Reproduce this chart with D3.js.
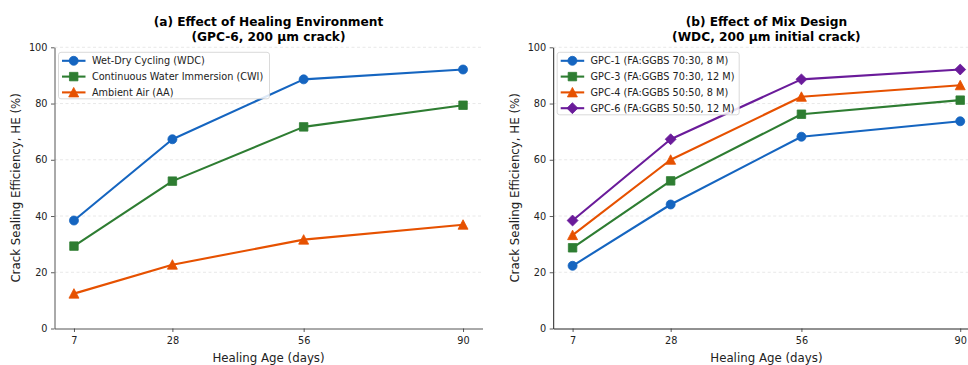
<!DOCTYPE html>
<html>
<head>
<meta charset="utf-8">
<script src="https://cdn.jsdelivr.net/npm/d3@7/dist/d3.min.js"></script>
<style>
  html, body { margin: 0; padding: 0; background: #fff; }
  svg { display: block; font-family: "DejaVu Sans", sans-serif; }
</style>
</head>
<body>
<svg id="chart" width="968" height="365"></svg>
<script>
// ---------- data ----------
const days = [7, 28, 56, 90];
const xTicks = [7, 28, 56, 90];
const yTicks = [0, 20, 40, 60, 80, 100];

const envNames = ["Wet-Dry Cycling (WDC)", "Continuous Water Immersion (CWI)", "Ambient Air (AA)"];
const wdc = [38.4, 67.3, 88.6, 92.1];
const cwi = [29.3, 52.4, 71.7, 79.4];
const aa  = [12.4, 22.7, 31.6, 36.9];

const mixNames = ["GPC-1 (FA:GGBS 70:30, 8 M)", "GPC-3 (FA:GGBS 70:30, 12 M)", "GPC-4 (FA:GGBS 50:50, 8 M)", "GPC-6 (FA:GGBS 50:50, 12 M)"];
const gpc1 = [22.3, 44.1, 68.2, 73.7];
const gpc3 = [28.7, 52.5, 76.2, 81.2];
const gpc4 = [33.2, 60.0, 82.4, 86.5];
const gpc6 = [38.4, 67.3, 88.6, 92.1];

const titlesA = ["(a)  Effect of Healing Environment", "(GPC-6, 200 μm crack)"];
const titlesB = ["(b)  Effect of Mix Design", "(WDC, 200 μm initial crack)"];
const xLabel = "Healing Age (days)";
const yLabel = "Crack Sealing Efficiency, HE (%)";

// ---------- styles ----------
const BLUE = "#1565C0", GREEN = "#2E7D32", ORANGE = "#E65100", PURPLE = "#6A1B9A";

function markerPath(type, s) {
  const h = s / 2;
  if (type === "circle") return d3.symbol(d3.symbolCircle, Math.PI * h * h)();
  if (type === "square") return `M${-h},${-h}H${h}V${h}H${-h}Z`;
  if (type === "triangle") return `M0,${-h * 1.05}L${h * 1.05},${h * 0.95}L${-h * 1.05},${h * 0.95}Z`;
  if (type === "diamond") { const d = h * 1.15; return `M0,${-d}L${d},0L0,${d}L${-d},0Z`; }
}
const mSize = { circle: 9, square: 8.5, triangle: 9.5, diamond: 9.5 };

const svg = d3.select("#chart");

// font size that makes `str` about `target` px wide
function fitSize(str, target, bold) {
  const t = svg.append("text").attr("font-size", 10)
    .attr("font-weight", bold ? "bold" : "normal").text(str);
  const w = t.node().getComputedTextLength();
  t.remove();
  return w > 0 ? 10 * target / w : 10;
}
const legFs = 9.72;
const tickFs = 9.72;
const titleFs = Math.min(13, Math.max(11, fitSize(titlesA[0], 230, true)));
const xLabFs = 11.8;
const yLabFs = 11.8;

function panel(cfg) {
  const x = d3.scaleLinear().domain([7 - 0.05 * 83, 90 + 0.05 * 83]).range(cfg.xr);
  const y = d3.scaleLinear().domain([0, 100]).range([328.5, 47.3]);
  const g = svg.append("g");

  // grid
  g.append("g").selectAll("line").data(yTicks.slice(1)).join("line")
    .attr("x1", cfg.xr[0]).attr("x2", cfg.xr[1])
    .attr("y1", d => y(d)).attr("y2", d => y(d))
    .attr("stroke", "#e2e2e2").attr("stroke-width", 0.8).attr("stroke-dasharray", "3,2.5");

  // axes
  const xa = g.append("g").attr("transform", `translate(0,${y(0)})`)
    .call(d3.axisBottom(x).tickValues(xTicks).tickSize(3.5).tickPadding(5).tickSizeOuter(0));
  const ya = g.append("g").attr("transform", `translate(${cfg.xr[0]},0)`)
    .call(d3.axisLeft(y).tickValues(yTicks).tickSize(3.5).tickPadding(3.5).tickSizeOuter(0));
  [xa, ya].forEach(a => {
    a.select(".domain").attr("stroke", cfg.spine).attr("stroke-width", 1);
    a.selectAll(".tick line").attr("stroke", "#333").attr("stroke-width", 0.8);
    a.selectAll(".tick text").attr("font-size", tickFs).attr("fill", "#222")
      .attr("font-family", "DejaVu Sans");
  });

  // lines + markers
  cfg.series.forEach(s => {
    const pts = days.map((d, i) => [x(d), y(s.values[i])]);
    g.append("path").attr("d", d3.line()(pts)).attr("fill", "none")
      .attr("stroke", s.color).attr("stroke-width", 2.1).attr("stroke-linejoin", "round");
    g.append("g").selectAll("path").data(pts).join("path")
      .attr("transform", p => `translate(${p[0]},${p[1]})`)
      .attr("d", markerPath(s.marker, mSize[s.marker]))
      .attr("fill", s.color).attr("stroke", s.color).attr("stroke-width", 0.8);
  });

  // titles
  const cx = (cfg.xr[0] + cfg.xr[1]) / 2;
  g.append("text").attr("x", cx).attr("y", 26).attr("text-anchor", "middle")
    .attr("font-size", titleFs).attr("font-weight", "bold").text(cfg.titles[0]);
  g.append("text").attr("x", cx).attr("y", 41).attr("text-anchor", "middle")
    .attr("font-size", titleFs).attr("font-weight", "bold").text(cfg.titles[1]);

  // axis labels
  g.append("text").attr("x", cx).attr("y", 362).attr("text-anchor", "middle")
    .attr("font-size", xLabFs).attr("fill", "#222").text(xLabel);
  g.append("text").attr("transform", `translate(${cfg.ylx},${(y(0) + y(100)) / 2}) rotate(-90)`)
    .attr("text-anchor", "middle").attr("font-size", yLabFs).attr("fill", "#222").text(yLabel);

  // legend
  const lg = g.append("g").attr("transform", `translate(${cfg.xr[0] + 4},52.3)`);
  lg.append("rect").attr("x", 0).attr("y", 0).attr("width", cfg.legW)
    .attr("height", cfg.series.length * 16 - 1.5).attr("rx", 2.5)
    .attr("fill", "white").attr("fill-opacity", 0.85).attr("stroke", "#d0d0d0").attr("stroke-width", 0.8);
  cfg.series.forEach((s, i) => {
    const yy = 8.5 + i * 15.8;
    lg.append("line").attr("x1", 3.5).attr("x2", 27).attr("y1", yy).attr("y2", yy)
      .attr("stroke", s.color).attr("stroke-width", 2.1);
    lg.append("path").attr("transform", `translate(15.2,${yy})`)
      .attr("d", markerPath(s.marker, mSize[s.marker])).attr("fill", s.color)
      .attr("stroke", s.color).attr("stroke-width", 0.8);
    lg.append("text").attr("x", 33.4).attr("y", yy + 0.36 * legFs).attr("font-size", legFs)
      .attr("fill", "#222").text(s.name);
  });
}

panel({
  xr: [54.5, 482.5], ylx: 20, titles: titlesA, legW: 211, spine: "#555",
  series: [
    { name: envNames[0], values: wdc, color: BLUE, marker: "circle" },
    { name: envNames[1], values: cwi, color: GREEN, marker: "square" },
    { name: envNames[2], values: aa, color: ORANGE, marker: "triangle" }
  ]
});
panel({
  xr: [553.2, 979.6], ylx: 519, titles: titlesB, legW: 182, spine: "#222",
  series: [
    { name: mixNames[0], values: gpc1, color: BLUE, marker: "circle" },
    { name: mixNames[1], values: gpc3, color: GREEN, marker: "square" },
    { name: mixNames[2], values: gpc4, color: ORANGE, marker: "triangle" },
    { name: mixNames[3], values: gpc6, color: PURPLE, marker: "diamond" }
  ]
});
</script>
</body>
</html>
